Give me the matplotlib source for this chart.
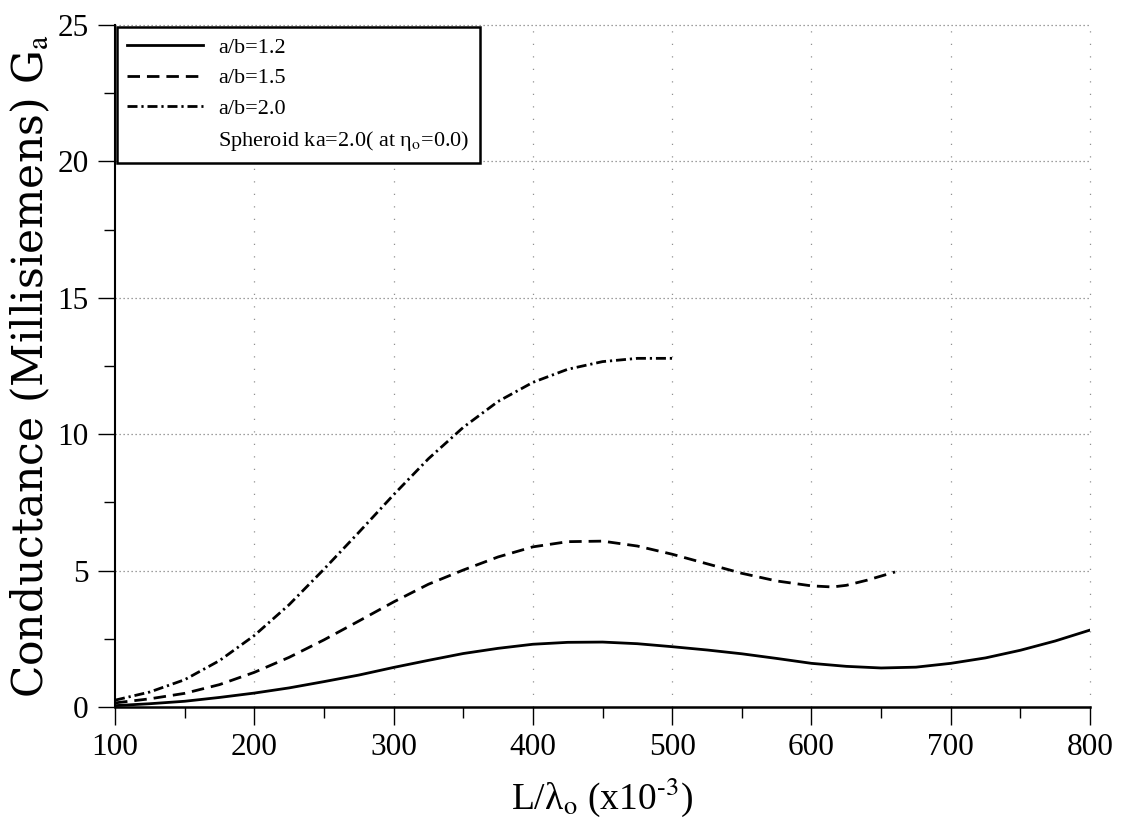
import matplotlib
matplotlib.use("Agg")
import matplotlib.pyplot as plt
from matplotlib.lines import Line2D
from matplotlib.ticker import MultipleLocator

# Conductance G_a (millisiemens) versus L/lambda_o (x10^-3)
x_12 = [100, 125, 150, 175, 200, 225, 250, 275, 300, 325, 350, 375, 400, 425,
        450, 475, 500, 525, 550, 575, 600, 625, 650, 675, 700, 725, 750, 775, 800]
g_12 = [0.05, 0.12, 0.21, 0.35, 0.51, 0.70, 0.93, 1.17, 1.45, 1.71, 1.96, 2.15,
        2.30, 2.37, 2.38, 2.32, 2.21, 2.09, 1.95, 1.78, 1.60, 1.49, 1.43, 1.46,
        1.60, 1.80, 2.08, 2.42, 2.82]

x_15 = [100, 125, 150, 175, 200, 225, 250, 275, 300, 325, 350, 375, 400, 425,
        450, 475, 500, 525, 550, 575, 600, 615, 625, 640, 660]
g_15 = [0.15, 0.30, 0.50, 0.82, 1.27, 1.82, 2.46, 3.15, 3.85, 4.50, 5.02, 5.50,
        5.87, 6.06, 6.08, 5.90, 5.60, 5.25, 4.90, 4.62, 4.44, 4.40, 4.46, 4.65, 4.95]

x_20 = [100, 125, 150, 175, 200, 225, 250, 275, 300, 325, 350, 375, 400, 425,
        450, 475, 500]
g_20 = [0.25, 0.55, 1.00, 1.70, 2.62, 3.75, 5.05, 6.40, 7.78, 9.10, 10.25, 11.20,
        11.90, 12.38, 12.66, 12.78, 12.78]

labels = ["a/b=1.2", "a/b=1.5", "a/b=2.0"]
note = r"Spheroid ka=2.0( at η$_{\rm o}$=0.0)"

x_ticks = [100, 200, 300, 400, 500, 600, 700, 800]
y_ticks = [0, 5, 10, 15, 20, 25]

plt.rcParams["mathtext.fontset"] = "stix"

fig = plt.figure(figsize=(11.21, 8.30), dpi=100)
ax = fig.add_axes([0.1026, 0.1482, 0.8698, 0.8217])

lw = 2.0
ax.plot(x_12, g_12, color="black", lw=lw, ls="-", label=labels[0])
ax.plot(x_15, g_15, color="black", lw=lw, ls=(0, (4.5, 2.5)), label=labels[1])
ax.plot(x_20, g_20, color="black", lw=lw, ls=(0, (3.6, 1.4, 0.8, 1.4)), label=labels[2])

ax.set_xlim(100, 800)
ax.set_ylim(0, 25)
ax.set_xticks(x_ticks)
ax.set_yticks(y_ticks)
ax.xaxis.set_minor_locator(MultipleLocator(50))
ax.yaxis.set_minor_locator(MultipleLocator(2.5))

tick_font = dict(family="Liberation Serif", size=22.5)
ax.set_xticklabels([str(v) for v in x_ticks], **tick_font)
ax.set_yticklabels([str(v) for v in y_ticks], **tick_font)
ax.tick_params(axis="x", which="major", direction="out", length=13, width=1.0, pad=6, color="black")
ax.tick_params(axis="y", which="major", direction="out", length=12, width=1.0, pad=7, color="black")
ax.tick_params(which="minor", direction="out", length=8, width=1.0, color="black")

for s in ("top", "right"):
    ax.spines[s].set_visible(False)
ax.spines["left"].set_linewidth(1.5)
ax.spines["bottom"].set_linewidth(1.8)

# dotted grid: dense horizontal rows, sparse vertical columns
for yv in y_ticks[1:]:
    ax.axhline(yv, color="#808080", lw=0.9, ls=(0, (1, 2.2)), zorder=0, clip_on=False)
for xv in x_ticks[1:]:
    ax.axvline(xv, color="#909090", lw=0.9, ls=(0, (1, 9)), zorder=0, clip_on=False)

ax.set_ylabel(r"Conductance (Millisiemens) G$_{\rm a}$", family="DejaVu Serif",
              fontsize=30.5)
ax.yaxis.set_label_coords(-0.064, 0.5)
ax.set_xlabel(r"L/λ$_{\rm o}$ (x10$^{\text{-3}}$)", family="Liberation Serif",
              fontsize=27, labelpad=9)

handles, _ = ax.get_legend_handles_labels()
handles.append(Line2D([], [], color="none"))
leg = ax.legend(handles, labels + [note], loc="upper left", bbox_to_anchor=(0.0, 1.0),
                borderaxespad=0.1, frameon=True, fancybox=False, framealpha=1,
                edgecolor="black", prop=dict(family="Liberation Serif", size=16),
                handlelength=3.4, handletextpad=0.7, labelspacing=0.45, borderpad=0.45)
leg.get_frame().set_linewidth(1.8)
leg.set_zorder(5)

fig.savefig("out.png", dpi=100)
